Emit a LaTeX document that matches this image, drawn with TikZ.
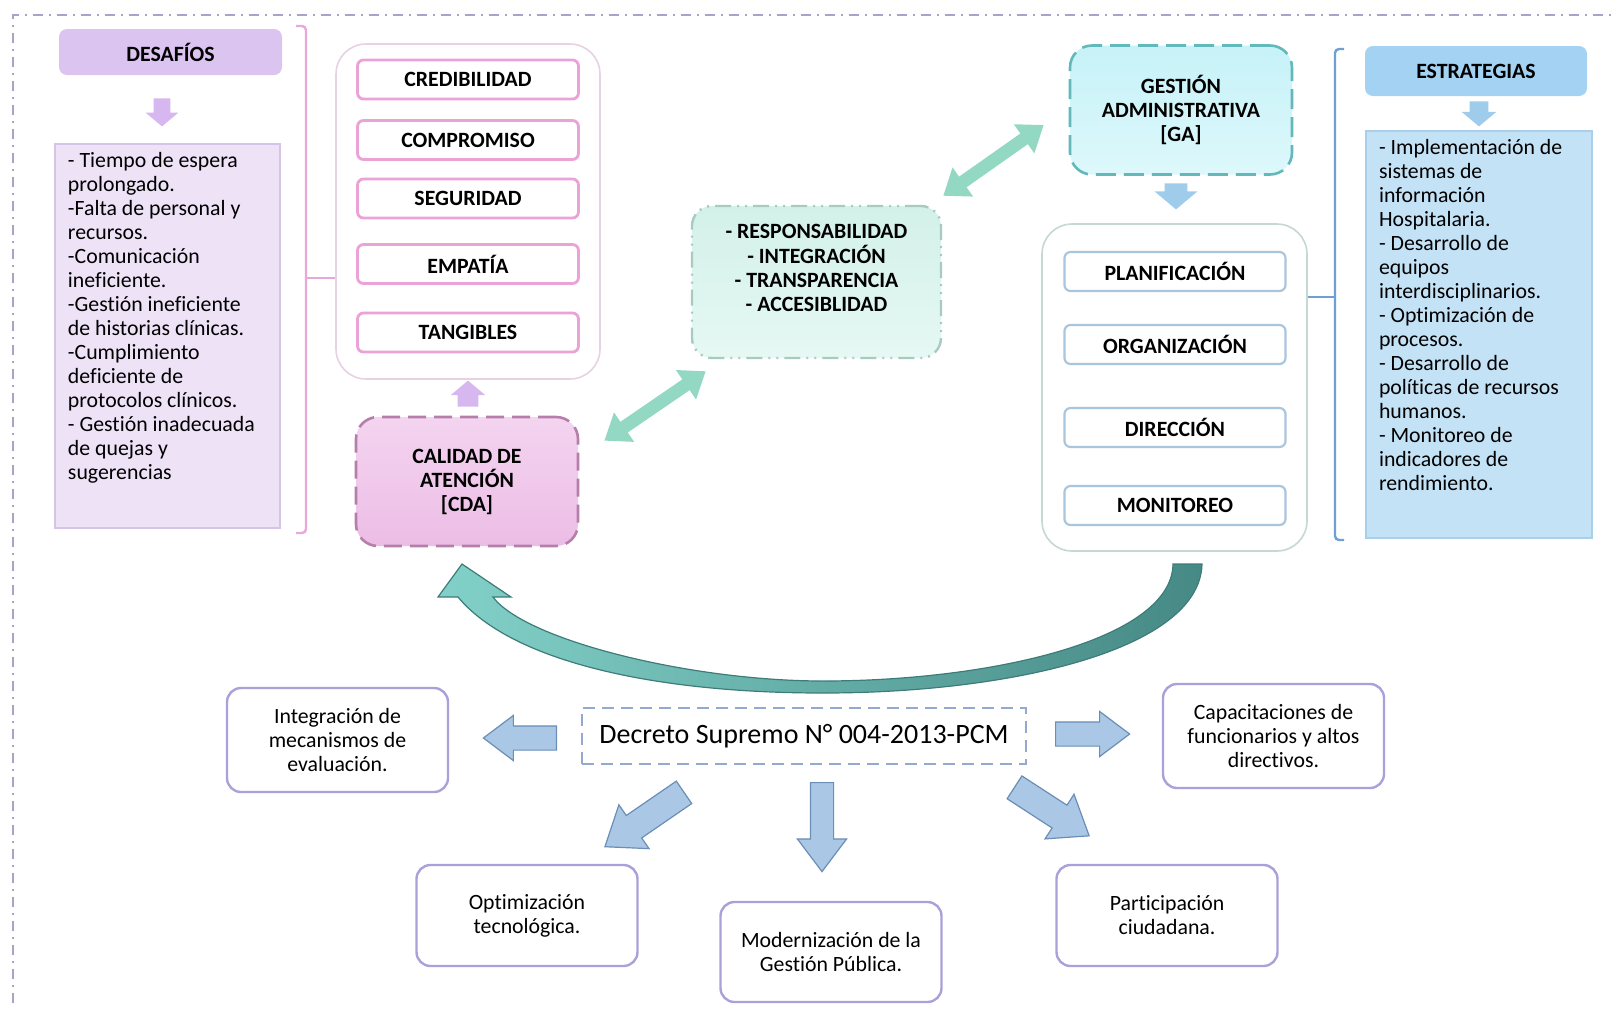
\documentclass[tikz,border=0pt]{standalone}
\usepackage{fontspec}
\setmainfont{Carlito}[Ligatures={NoCommon}]
\usetikzlibrary{positioning,calc,shapes.arrows,arrows.meta}

\definecolor{frameC}{HTML}{A7A3C9}
\definecolor{desHeadC}{HTML}{DCC4F1}
\definecolor{desFillC}{HTML}{EEE2F7}
\definecolor{desLineC}{HTML}{D6C4E8}
\definecolor{lilacC}{HTML}{D6B7EF}
\definecolor{pinkC}{HTML}{E8A8DA}
\definecolor{pinkGrpC}{HTML}{E6D2E3}
\definecolor{pinkItemC}{HTML}{EBA3D7}
\definecolor{cdaLineC}{HTML}{B57FAA}
\definecolor{cdaTopC}{HTML}{F4D4F0}
\definecolor{cdaBotC}{HTML}{ECBDE6}
\definecolor{mintC}{HTML}{93D8C3}
\definecolor{midLineC}{HTML}{A8CBBF}
\definecolor{midTopC}{HTML}{D3F1E9}
\definecolor{midBotC}{HTML}{E6F8F3}
\definecolor{gaLineC}{HTML}{62B8BA}
\definecolor{gaTopC}{HTML}{C6F2F8}
\definecolor{gaBotC}{HTML}{DDF8FB}
\definecolor{skyC}{HTML}{9FCCEB}
\definecolor{blueGrpC}{HTML}{C6D7D5}
\definecolor{blueItemC}{HTML}{A9C6DD}
\definecolor{blueBrC}{HTML}{6FA0D4}
\definecolor{estHeadC}{HTML}{A3D2F2}
\definecolor{estFillC}{HTML}{C4E2F6}
\definecolor{estLineC}{HTML}{A9CFEA}
\definecolor{decLineC}{HTML}{93A9CF}
\definecolor{arrFillC}{HTML}{AAC8E6}
\definecolor{arrLineC}{HTML}{6B8DB6}
\definecolor{lowLineC}{HTML}{ABA1DA}
\definecolor{tealLightC}{HTML}{82D1C9}
\definecolor{tealDarkC}{HTML}{468985}
\definecolor{tealLineC}{HTML}{3E7C79}

\newcommand\txtsize{\fontsize{10.9pt}{12pt}\selectfont}

\begin{document}
\begin{tikzpicture}[x=0.5pt,y=-0.5pt,font=\txtsize,
  frameline/.style={draw=frameC,line width=1.2pt,dash pattern=on 5pt off 3pt on 1pt off 3pt},
  hdrbox/.style={rectangle,rounded corners=4pt,minimum width=111.5pt,minimum height=23pt,inner sep=0pt,font=\txtsize\bfseries},
  listbox/.style={rectangle,inner xsep=6.5pt,inner ysep=4pt,line width=0.6pt},
  grpbox/.style={rectangle,rounded corners=15pt,fill=white,line width=0.8pt,inner sep=0pt},
  itembox/.style={rectangle,rounded corners=3pt,fill=white,minimum width=110.5pt,minimum height=19.5pt,inner sep=0pt,line width=1.4pt,font=\txtsize\bfseries},
  corebox/.style={rectangle,rounded corners=11pt,minimum width=111pt,minimum height=64.5pt,inner sep=0pt,line width=1.3pt,align=center,font=\txtsize\bfseries},
  lowbox/.style={rectangle,rounded corners=7pt,draw=lowLineC,fill=white,line width=1.2pt,minimum width=110.5pt,minimum height=52pt,inner sep=0pt,align=center},
  bracket/.style={line width=1.2pt,rounded corners=2pt},
  toparrow/.style={single arrow,single arrow head extend=#1,single arrow tip angle=100,inner xsep=0pt,anchor=tail},
  lowarrow/.style={single arrow,single arrow head extend=#1,single arrow tip angle=74,inner xsep=0pt,anchor=tail,fill=arrFillC,draw=arrLineC,line width=0.6pt},
  mintarrow/.style={draw=mintC,line width=6.5pt,{Triangle[width=17pt,length=12pt]}-{Triangle[width=17pt,length=12pt]}}
]
\useasboundingbox (0,0) rectangle (1614,1014);

% frame
\draw[frameline] (13,1003) -- (13,15) -- (1614,15);

% desafios
\node[hdrbox,fill=desHeadC] (desHead) at (170.5,52) {DESAFÍOS};
\node[listbox,fill=desFillC,draw=desLineC] (desList) at (167.5,336) {\parbox[t][184pt][t]{99.5pt}{\raggedright
- Tiempo de espera\\ prolongado.\\ -Falta de personal y\\ recursos.\\ -Comunicación\\ ineficiente.\\ -Gestión ineficiente\\ de historias clínicas.\\ -Cumplimiento\\ deficiente de\\ protocolos clínicos.\\ - Gestión inadecuada\\ de quejas y\\ sugerencias}};
\node[toparrow=4pt,fill=lilacC,minimum height=14pt,inner ysep=4pt,rotate=-90] (desArr) at (162,98) {};

\draw[bracket,pinkC] (296,26) -- (306,26) -- (306,533) -- (296,533);
\coordinate (pinkMid) at (306,278);

% calidad de atencion
\node[grpbox,draw=pinkGrpC,minimum width=132pt,minimum height=167.5pt] (cdaGrp) at (468,211.5) {};
\draw[pinkC,line width=1.2pt] (pinkMid) -- (pinkMid -| cdaGrp.west);
\foreach \nm/\lbl/\yy in {cred/CREDIBILIDAD/79.5,comp/COMPROMISO/140,segu/SEGURIDAD/198.5,empa/EMPATÍA/264,tang/TANGIBLES/332.5}
  \node[itembox,draw=pinkItemC] (\nm) at (468,\yy) {\lbl};
\node[corebox,draw=cdaLineC,dash pattern=on 9pt off 4pt,top color=cdaTopC,bottom color=cdaBotC] (cda) at (467,481.5) {CALIDAD DE\\ATENCIÓN\\{[CDA]}};
\node[toparrow=3.5pt,fill=lilacC,minimum height=13pt,inner ysep=5pt,rotate=90] (cdaArr) at (468,407) {};

% principios
\node[rectangle,rounded corners=10pt,minimum width=124.5pt,minimum height=76pt,inner sep=0pt,draw=midLineC,line width=1.2pt,
  dash pattern=on 8pt off 3pt on 1pt off 3pt on 1pt off 3pt,top color=midTopC,bottom color=midBotC,font=\txtsize\bfseries] (mid) at (816.5,282)
  {\raisebox{6pt}[\height][\depth]{\begin{tabular}{@{}c@{}}- RESPONSABILIDAD\\- INTEGRACIÓN\\- TRANSPARENCIA\\- ACCESIBLIDAD\end{tabular}}};
\draw[mintarrow] ($(cda.north east)+(25,25)$) -- ($(mid.south west)+(15,12)$);

% gestion administrativa
\node[corebox,draw=gaLineC,dash pattern=on 10pt off 4pt,top color=gaTopC,bottom color=gaBotC] (ga) at (1181,110) {GESTIÓN\\ADMINISTRATIVA\\{[GA]}};
\draw[mintarrow] ($(mid.north east)+(1,-9)$) -- ($(ga.west)+(-25,15)$);
\node[toparrow=5pt,fill=skyC,minimum height=13pt,inner ysep=5.5pt,rotate=-90] (gaArr) at (1176,183) {};
\node[grpbox,draw=blueGrpC,minimum width=132.5pt,minimum height=163.5pt] (gaGrp) at (1174.5,387.5) {};
\foreach \nm/\lbl/\yy in {plan/PLANIFICACIÓN/271.5,orga/ORGANIZACIÓN/344.5,dire/DIRECCIÓN/427.5,moni/MONITOREO/505.5}
  \node[itembox,draw=blueItemC,line width=1.1pt] (\nm) at (1175,\yy) {\lbl};

% estrategias
\draw[bracket,blueBrC] (1344,49) -- (1335,49) -- (1335,540) -- (1344,540);
\coordinate (blueMid) at (1335,297);
\draw[blueBrC,line width=1.2pt] (blueMid) -- (blueMid -| gaGrp.east);
\node[hdrbox,fill=estHeadC,minimum width=111pt,minimum height=25pt] (estHead) at (1476,71) {ESTRATEGIAS};
\node[toparrow=4pt,fill=skyC,minimum height=12.5pt,inner ysep=4.5pt,rotate=-90] (estArr) at (1479,101) {};
\node[listbox,fill=estFillC,draw=estLineC] (estList) at (1479,334.5) {\parbox[t][195.5pt][t]{100pt}{\raggedright
- Implementación de\\ sistemas de\\ información\\ Hospitalaria.\\ - Desarrollo de\\ equipos\\ interdisciplinarios.\\ - Optimización de\\ procesos.\\ - Desarrollo de\\ políticas de recursos\\ humanos.\\ - Monitoreo de\\ indicadores de\\ rendimiento.}};

% retorno GA -> CDA
\shadedraw[left color=tealLightC,right color=tealDarkC,draw=tealLineC,line width=0.6pt]
  (1202,564) .. controls (1200,650) and (1010,693) .. (823,693)
  .. controls (650,693) and (510,660) .. (458,597)
  -- (438,597) -- (462,564) -- (511,597) -- (493,597)
  .. controls (525,640) and (690,681) .. (823,681)
  .. controls (990,681) and (1172,640) .. (1173,564) -- cycle;

% decreto
\node[rectangle,draw=decLineC,line width=1.2pt,dash pattern=on 6pt off 3.5pt,minimum width=222pt,minimum height=28pt,inner sep=0pt,
  font=\fontsize{14pt}{16pt}\selectfont] (dec) at (804,736) {Decreto Supremo N° 004-2013-PCM};
\node[lowbox] (integ) at (337.5,740) {Integración de\\mecanismos de\\evaluación.};
\node[lowbox] (capac) at (1273.5,736) {Capacitaciones de\\funcionarios y altos\\directivos.};
\node[lowbox,minimum height=50.5pt] (optim) at (527,915.5) {Optimización\\tecnológica.};
\node[lowbox,minimum height=50pt] (modern) at (831,952) {Modernización de la\\Gestión Pública.};
\node[lowbox,minimum height=50.5pt] (partic) at (1167,915.5) {Participación\\ciudadana.};

\node[lowarrow=5.25pt,minimum height=36.5pt,inner ysep=5.75pt,rotate=180] (arrInteg) at (557,738) {};
\node[lowarrow=5.25pt,minimum height=37pt,inner ysep=5.75pt] (arrCapac) at (1055,734) {};
\node[lowarrow=6.5pt,minimum height=44.5pt,inner ysep=5.5pt,rotate=-90] (arrModern) at (822,782) {};
\node[lowarrow=6.5pt,minimum height=48pt,inner ysep=6.5pt,rotate=-145.5] (arrOptim) at (684.5,792) {};
\node[lowarrow=6.5pt,minimum height=44.5pt,inner ysep=6.5pt,rotate=-33] (arrPartic) at (1014,787) {};
\end{tikzpicture}
\end{document}
